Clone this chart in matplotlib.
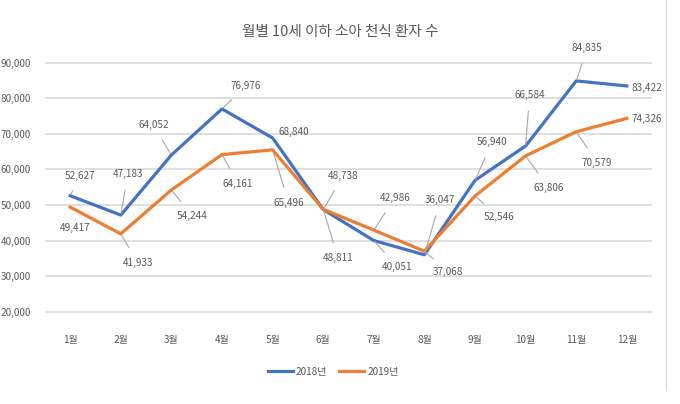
import matplotlib.pyplot as plt
from matplotlib.lines import Line2D

plt.rcParams['font.family'] = ['Noto Sans CJK KR', 'DejaVu Sans']

# ── Data ──────────────────────────────────────────────────────────────────────
months = ['1월', '2월', '3월', '4월', '5월', '6월', '7월', '8월', '9월', '10월', '11월', '12월']
y2018 = [52627, 47183, 64052, 76976, 68840, 48738, 40051, 36047, 56940, 66584, 84835, 83422]
y2019 = [49417, 41933, 54244, 64161, 65496, 48811, 42986, 37068, 52546, 63806, 70579, 74326]

# label offsets (pixels); leader line drawn when far away
off2018 = [(10, 20), (7, 41), (-18, 30), (24, 23), (21, 6), (20, 34),
           (23, -26), (16, 55), (17, 38), (4, 51), (11, 33), (20, -2)]
off2019 = [(5, -21), (17, -29), (21, -26), (16, -29), (16, -53), (15, -49),
           (21, 32), (24, -21), (24, -21), (23, -32), (21, -31), (20, -1)]

BLUE = '#4472C4'
ORANGE = '#ED7D31'
GRAY = '#595959'

fig = plt.figure(figsize=(6.8, 4.04), dpi=100)
ax = fig.add_axes([0.066, 0.226, 0.893, 0.621])

x = list(range(len(months)))
ax.plot(x, y2018, color=BLUE, lw=2.3, label='2018년', zorder=3)
ax.plot(x, y2019, color=ORANGE, lw=2.3, label='2019년', zorder=3)

for series, offs in ((y2018, off2018), (y2019, off2019)):
    for xi, v, (dx, dy) in zip(x, series, offs):
        far = (dx ** 2 + dy ** 2) ** 0.5 > 22
        ax.annotate(f'{v:,}', xy=(xi, v), xytext=(dx, dy), textcoords='offset pixels',
                    ha='center', va='center', fontsize=7.2, color=GRAY,
                    arrowprops=dict(arrowstyle='-', color='#A6A6A6', lw=0.8,
                                    shrinkA=6, shrinkB=1) if far else None,
                    zorder=4)

ax.set_xlim(-0.5, len(months) - 0.5)
ax.set_ylim(19800, 90200)
ax.set_yticks(range(20000, 90001, 10000))
ax.set_yticklabels([f'{t:,}' for t in range(20000, 90001, 10000)])
ax.set_xticks(x)
ax.set_xticklabels(months)
ax.tick_params(axis='both', length=0, labelsize=7.2, colors=GRAY)
ax.tick_params(axis='x', pad=16)
ax.tick_params(axis='y', pad=10)
ax.grid(axis='y', color='#D9D9D9', lw=1.2)
ax.set_axisbelow(True)
for s in ax.spines.values():
    s.set_visible(False)

fig.text(0.5, 0.92, '월별 10세 이하 소아 천식 환자 수', ha='center', va='center',
         fontsize=10.5, color=GRAY)

fig.legend(loc='center', bbox_to_anchor=(0.49, 0.08), ncol=2, frameon=False,
           fontsize=7.2, labelcolor=GRAY, handlelength=2.5, columnspacing=1.2,
           handletextpad=0.3)

fig.add_artist(Line2D([665.5 / 680, 665.5 / 680], [1.0, 1 - 390 / 404],
                      transform=fig.transFigure, color='#D9D9D9', lw=0.8))

fig.savefig('out.png', dpi=100)
